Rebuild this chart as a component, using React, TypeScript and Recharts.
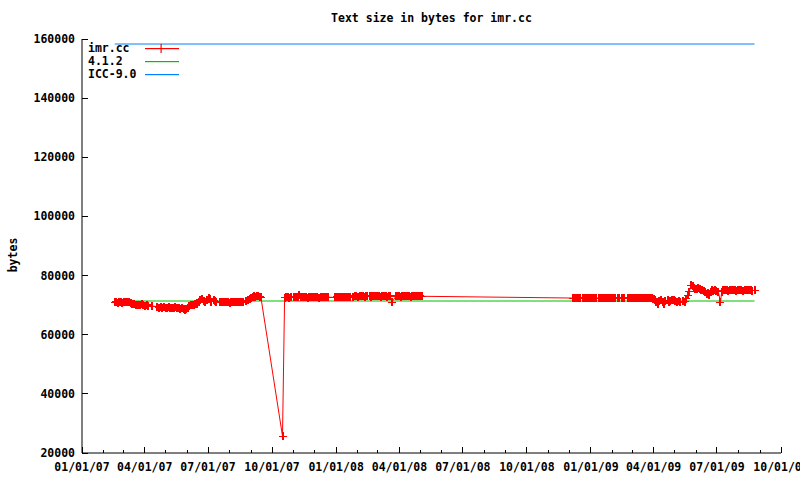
import React from 'react';
import { LineChart, Line, XAxis, YAxis } from 'recharts';

const FONT = '"DejaVu Sans Mono", "Liberation Mono", monospace';

// series colours (gnuplot defaults)
const colors = {
    imr: '#ff0000',
    gcc: '#00c000',
    icc: '#0080ff',
};

// imr.cc text size in bytes
const imr2007: [string, number][] = [
    ['2007-02-17', 71000], ['2007-02-19', 71200], ['2007-02-21', 70800], ['2007-02-23', 71100], ['2007-02-26', 71000],
    ['2007-02-28', 70700], ['2007-03-02', 71000], ['2007-03-05', 71200], ['2007-03-07', 70900], ['2007-03-09', 71000],
    ['2007-03-12', 70700], ['2007-03-14', 70500], ['2007-03-16', 70300], ['2007-03-19', 70000], ['2007-03-21', 70200],
    ['2007-03-23', 69900], ['2007-03-26', 70100], ['2007-03-28', 70400], ['2007-03-30', 70000], ['2007-04-02', 69800],
    ['2007-04-04', 70100], ['2007-04-06', 69800], ['2007-04-12', 69700], ['2007-04-19', 69500], ['2007-04-21', 69200],
    ['2007-04-24', 69400], ['2007-04-26', 69100], ['2007-04-29', 69300], ['2007-05-01', 69000], ['2007-05-03', 69200],
    ['2007-05-06', 69400], ['2007-05-08', 69100], ['2007-05-10', 69000], ['2007-05-13', 69200], ['2007-05-15', 69300],
    ['2007-05-17', 69100], ['2007-05-20', 68900], ['2007-05-22', 68700], ['2007-05-24', 69000], ['2007-05-27', 68600],
    ['2007-05-29', 68400], ['2007-05-31', 68800], ['2007-06-02', 69100], ['2007-06-04', 69600], ['2007-06-06', 69900],
    ['2007-06-08', 70100], ['2007-06-11', 70000], ['2007-06-13', 70300], ['2007-06-15', 70500], ['2007-06-18', 71200],
    ['2007-06-20', 71900], ['2007-06-22', 72200], ['2007-06-25', 71300], ['2007-06-27', 70900], ['2007-06-29', 71600],
    ['2007-07-02', 72300], ['2007-07-04', 72000], ['2007-07-06', 71200], ['2007-07-09', 71700], ['2007-07-11', 71300],
    ['2007-07-13', 71100], ['2007-07-18', 71000], ['2007-07-20', 71100], ['2007-07-23', 70900], ['2007-07-25', 71000],
    ['2007-07-27', 71200], ['2007-07-30', 71000], ['2007-08-01', 70800], ['2007-08-03', 71000], ['2007-08-06', 71100],
    ['2007-08-08', 70900], ['2007-08-10', 71000], ['2007-08-13', 71200], ['2007-08-15', 71000], ['2007-08-17', 70900],
    ['2007-08-20', 71000], ['2007-08-24', 71300], ['2007-08-27', 71600], ['2007-08-30', 72000], ['2007-09-01', 72400],
    ['2007-09-03', 72700], ['2007-09-05', 73000], ['2007-09-07', 72800], ['2007-09-09', 73200], ['2007-09-11', 73000],
    ['2007-09-13', 72900], ['2007-09-15', 72600], ['2007-10-16', 25700], ['2007-10-19', 72500], ['2007-10-21', 72600],
    ['2007-10-24', 72800], ['2007-10-26', 72500], ['2007-10-28', 72700], ['2007-11-02', 72600], ['2007-11-05', 72800],
    ['2007-11-07', 72700], ['2007-11-09', 73300], ['2007-11-12', 72900], ['2007-11-14', 72600], ['2007-11-16', 72800],
    ['2007-11-19', 72700], ['2007-11-21', 72500], ['2007-11-23', 72700], ['2007-11-26', 72800], ['2007-11-28', 72600],
    ['2007-11-30', 72700], ['2007-12-03', 72900], ['2007-12-05', 72700], ['2007-12-07', 72500], ['2007-12-10', 72700],
    ['2007-12-12', 72800], ['2007-12-14', 72600], ['2007-12-17', 72700], ['2007-12-19', 72600], ['2007-12-21', 72700],
    ['2007-12-30', 72600],
];

const imr2008: [string, number][] = [
    ['2008-01-02', 72800], ['2008-01-04', 72700], ['2008-01-07', 72600], ['2008-01-09', 72900], ['2008-01-11', 72700],
    ['2008-01-14', 72800], ['2008-01-16', 72600], ['2008-01-18', 72700], ['2008-01-21', 72800], ['2008-01-25', 72900],
    ['2008-01-28', 73100], ['2008-01-30', 73000], ['2008-02-01', 72900], ['2008-02-04', 73100], ['2008-02-06', 73000],
    ['2008-02-08', 73200], ['2008-02-11', 72900], ['2008-02-13', 73000], ['2008-02-15', 73100], ['2008-02-18', 73000],
    ['2008-02-20', 72900], ['2008-02-22', 73100], ['2008-02-25', 73000], ['2008-02-27', 73200], ['2008-02-29', 73000],
    ['2008-03-03', 73100], ['2008-03-05', 72900], ['2008-03-07', 73000], ['2008-03-10', 73100], ['2008-03-12', 73000],
    ['2008-03-14', 72900], ['2008-03-17', 73100], ['2008-03-19', 73000], ['2008-03-21', 71000], ['2008-03-27', 73000],
    ['2008-03-29', 73100], ['2008-04-01', 73000], ['2008-04-03', 72900], ['2008-04-05', 73100], ['2008-04-08', 73000],
    ['2008-04-10', 73200], ['2008-04-12', 73000], ['2008-04-15', 73100], ['2008-04-17', 72900], ['2008-04-19', 73000],
    ['2008-04-22', 73100], ['2008-04-24', 73000], ['2008-04-26', 73100], ['2008-04-29', 73000], ['2008-05-01', 73100],
    ['2008-05-03', 73000], ['2008-12-06', 72400], ['2008-12-08', 72400], ['2008-12-10', 72300], ['2008-12-13', 72500],
    ['2008-12-15', 72400], ['2008-12-17', 72300], ['2008-12-20', 72400], ['2008-12-22', 72500], ['2008-12-24', 72400],
    ['2008-12-27', 72300], ['2008-12-29', 72400], ['2008-12-31', 72500],
];

const imr2009: [string, number][] = [
    ['2009-01-03', 72400], ['2009-01-05', 72300], ['2009-01-08', 72400], ['2009-01-12', 72400], ['2009-01-15', 72300],
    ['2009-01-17', 72500], ['2009-01-20', 72400], ['2009-01-22', 72300], ['2009-01-24', 72400], ['2009-01-27', 72500],
    ['2009-01-29', 72400], ['2009-01-31', 72300], ['2009-02-03', 72400], ['2009-02-05', 72500], ['2009-02-09', 72400],
    ['2009-02-11', 72300], ['2009-02-14', 72400], ['2009-02-16', 72500], ['2009-02-18', 72400], ['2009-02-23', 72400],
    ['2009-02-25', 72300], ['2009-02-28', 72400], ['2009-03-02', 72500], ['2009-03-04', 72400], ['2009-03-07', 72300],
    ['2009-03-09', 72400], ['2009-03-11', 72500], ['2009-03-14', 72400], ['2009-03-16', 72300], ['2009-03-18', 72400],
    ['2009-03-21', 72500], ['2009-03-23', 72400], ['2009-03-25', 72300], ['2009-03-28', 72400], ['2009-03-30', 72300],
    ['2009-04-01', 72200], ['2009-04-03', 71800], ['2009-04-05', 71000], ['2009-04-07', 70400], ['2009-04-09', 71300],
    ['2009-04-12', 71600], ['2009-04-14', 71000], ['2009-04-16', 70500], ['2009-04-18', 71400], ['2009-04-21', 71700],
    ['2009-04-23', 71200], ['2009-04-25', 71500], ['2009-04-28', 71800], ['2009-04-30', 71600], ['2009-05-02', 71400],
    ['2009-05-05', 71100], ['2009-05-07', 71300], ['2009-05-09', 71000], ['2009-05-13', 71300], ['2009-05-16', 71200],
    ['2009-05-18', 72100], ['2009-05-21', 73400], ['2009-05-22', 74500], ['2009-05-25', 76800], ['2009-05-27', 76500],
    ['2009-05-29', 75800], ['2009-05-31', 75600], ['2009-06-02', 75400], ['2009-06-04', 75700], ['2009-06-06', 75300],
    ['2009-06-08', 75000], ['2009-06-10', 75200], ['2009-06-12', 74900], ['2009-06-14', 74600], ['2009-06-16', 73700],
    ['2009-06-18', 74200], ['2009-06-20', 73500], ['2009-06-22', 74400], ['2009-06-24', 75000], ['2009-06-26', 74800],
    ['2009-06-28', 75100], ['2009-06-30', 74700], ['2009-07-03', 74600], ['2009-07-06', 71000], ['2009-07-08', 74600],
    ['2009-07-10', 75100], ['2009-07-13', 75000], ['2009-07-15', 75200], ['2009-07-17', 74900], ['2009-07-20', 75100],
    ['2009-07-22', 75000], ['2009-07-24', 75200], ['2009-07-27', 75100], ['2009-07-29', 74900], ['2009-07-31', 75000],
    ['2009-08-03', 75200], ['2009-08-05', 75100], ['2009-08-07', 74900], ['2009-08-10', 75000], ['2009-08-12', 75100],
    ['2009-08-14', 75200], ['2009-08-17', 75000], ['2009-08-19', 75100], ['2009-08-21', 74900], ['2009-08-24', 75000],
];

// reference compilers: flat lines over the same period
const gcc412: [string, number][] = [['2007-02-17', 71400], ['2009-08-24', 71400]];
const icc90: [string, number][] = [['2007-02-17', 158300], ['2009-08-24', 158300]];

const yTicks = [20000, 40000, 60000, 80000, 100000, 120000, 140000, 160000];
const xStart = '2007-01-01';
const xEnd = '2009-10-01';

const toTime = (d: string) => {
    const [y, m, day] = d.split('-').map(Number);
    return Date.UTC(y, m - 1, day);
};
const toRows = (pts: [string, number][]) => pts.map(([d, v]) => ({ t: toTime(d), v }));

// monthly ticks, labelled every quarter
const monthTicks: number[] = [];
for (let y = 2007; y <= 2009; y++) {
    for (let m = 0; m < 12; m++) {
        const t = Date.UTC(y, m, 1);
        if (t >= toTime(xStart) && t <= toTime(xEnd)) monthTicks.push(t);
    }
}
const pad = (n: number) => (n < 10 ? '0' + n : '' + n);
const fmtDate = (t: number) => {
    const d = new Date(t);
    return `${pad(d.getUTCMonth() + 1)}/${pad(d.getUTCDate())}/${pad(d.getUTCFullYear() % 100)}`;
};
const isQuarter = (t: number) => new Date(t).getUTCMonth() % 3 === 0;

const textStyle = { fontFamily: FONT, fontWeight: 'bold' as const, fontSize: 11.5, fill: '#000' };

const BottomTick = (props: any) => {
    const { x, y, payload } = props;
    const major = isQuarter(payload.value);
    return (
        <g>
            <line x1={x} y1={y} x2={x} y2={y - (major ? 6 : 3)} stroke="#000" shapeRendering="crispEdges" />
            {major && (
                <text x={x} y={y + 18} textAnchor="middle" {...textStyle}>{fmtDate(payload.value)}</text>
            )}
        </g>
    );
};

const TopTick = (props: any) => {
    const { x, y, payload } = props;
    const major = isQuarter(payload.value);
    return <line x1={x} y1={y} x2={x} y2={y + (major ? 6 : 3)} stroke="#000" shapeRendering="crispEdges" />;
};

const LeftTick = (props: any) => {
    const { x, y, payload } = props;
    return (
        <g>
            <line x1={x} y1={y} x2={x + 6} y2={y} stroke="#000" shapeRendering="crispEdges" />
            <text x={x - 7} y={y + 4} textAnchor="end" {...textStyle}>{payload.value}</text>
        </g>
    );
};

const RightTick = (props: any) => {
    const { x, y } = props;
    return <line x1={x} y1={y} x2={x - 6} y2={y} stroke="#000" shapeRendering="crispEdges" />;
};

// gnuplot "+" point; vertical arm a bit heavier so the dense daily runs read as solid blocks
const PlusDot = (props: any) => {
    const { cx, cy, index } = props;
    if (cx == null || cy == null) return null;
    return (
        <g key={index} shapeRendering="crispEdges">
            <path d={`M${cx - 4},${cy}H${cx + 4}`} stroke={colors.imr} strokeWidth={1} fill="none" />
            <path d={`M${cx},${cy - 4}V${cy + 4}`} stroke={colors.imr} strokeWidth={2} fill="none" />
        </g>
    );
};

const legendRows = [
    { name: 'imr.cc', color: colors.imr, marker: true },
    { name: '4.1.2', color: colors.gcc, marker: false },
    { name: 'ICC-9.0', color: colors.icc, marker: false },
];

const App: React.FC = () => {
    const imrData = toRows([...imr2007, ...imr2008, ...imr2009]);
    const gccData = toRows(gcc412);
    const iccData = toRows(icc90);
    const domain = [toTime(xStart), toTime(xEnd)];

    return (
        <div style={{ position: 'absolute', left: 0, top: 0, width: 800, height: 480, background: '#fff' }}>
            <LineChart width={800} height={480} margin={{ top: 39, right: 19, bottom: 0, left: 0 }}>
                <XAxis
                    xAxisId="bottom"
                    dataKey="t"
                    type="number"
                    domain={domain}
                    ticks={monthTicks}
                    interval={0}
                    allowDataOverflow
                    height={27}
                    tickSize={0}
                    tickMargin={0}
                    tickLine={false}
                    stroke="#000"
                    tick={<BottomTick />}
                />
                <XAxis
                    xAxisId="top"
                    orientation="top"
                    dataKey="t"
                    type="number"
                    domain={domain}
                    ticks={monthTicks}
                    interval={0}
                    allowDataOverflow
                    height={0}
                    tickSize={0}
                    tickMargin={0}
                    tickLine={false}
                    stroke="#000"
                    tick={<TopTick />}
                />
                <YAxis
                    yAxisId="left"
                    type="number"
                    domain={[20000, 160000]}
                    ticks={yTicks}
                    interval={0}
                    allowDataOverflow
                    width={82}
                    tickSize={0}
                    tickMargin={0}
                    tickLine={false}
                    stroke="#000"
                    tick={<LeftTick />}
                    label={{
                        content: () => (
                            <text x={17} y={255} transform="rotate(-90 17 255)" textAnchor="middle" {...textStyle}>bytes</text>
                        ),
                    }}
                />
                <YAxis
                    yAxisId="right"
                    orientation="right"
                    type="number"
                    domain={[20000, 160000]}
                    ticks={yTicks}
                    interval={0}
                    allowDataOverflow
                    width={0}
                    tickSize={0}
                    tickMargin={0}
                    tickLine={false}
                    stroke="#000"
                    tick={<RightTick />}
                />
                <Line xAxisId="bottom" yAxisId="left" data={iccData} dataKey="v" name="ICC-9.0" stroke={colors.icc} strokeWidth={1} dot={false} isAnimationActive={false} />
                <Line xAxisId="bottom" yAxisId="left" data={gccData} dataKey="v" name="4.1.2" stroke={colors.gcc} strokeWidth={1} dot={false} isAnimationActive={false} />
                <Line xAxisId="bottom" yAxisId="left" data={imrData} dataKey="v" name="imr.cc" stroke={colors.imr} strokeWidth={1} dot={<PlusDot />} isAnimationActive={false} />
            </LineChart>

            {/* title */}
            <div style={{ position: 'absolute', left: 82, width: 699, top: 11, textAlign: 'center', fontFamily: FONT, fontWeight: 'bold', fontSize: 11.5, lineHeight: '14px' }}>
                Text size in bytes for imr.cc
            </div>

            {/* legend, top-left inside the plot */}
            <svg style={{ position: 'absolute', left: 0, top: 0, pointerEvents: 'none' }} width={800} height={480}>
                {legendRows.map((r, i) => {
                    const cy = 48 + i * 13;
                    return (
                        <g key={r.name}>
                            <text x={88} y={cy + 4} {...textStyle}>{r.name}</text>
                            <rect x={145} y={cy} width={34} height={1.2} fill={r.color} />
                            {r.marker && <rect x={160.5} y={cy - 4} width={1.2} height={9} fill={r.color} />}
                        </g>
                    );
                })}
            </svg>
        </div>
    );
};

export default App;
